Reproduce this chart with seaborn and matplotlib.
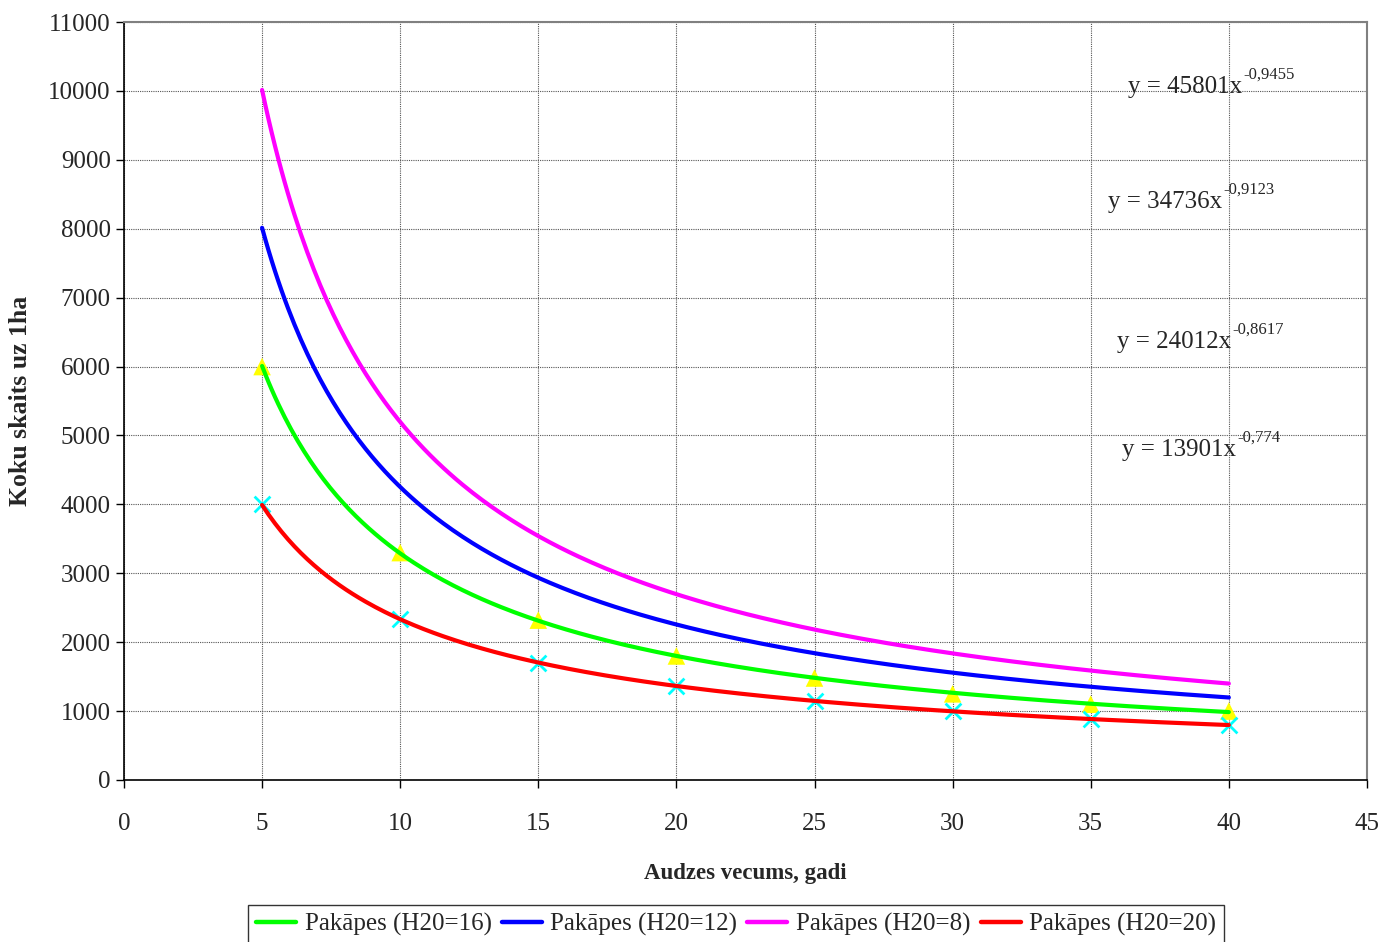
import numpy as np
import pandas as pd
import matplotlib.pyplot as plt
import seaborn as sns

# ---------------------------------------------------------------------------
# Dati (nolasīti no attēla)
# ---------------------------------------------------------------------------
vecums = [5, 10, 15, 20, 25, 30, 35, 40]

koki_h16 = [6000, 3300, 2320, 1800, 1480, 1250, 1100, 1000]
koki_h12 = [8000, 4250, 2950, 2260, 1840, 1550, 1350, 1200]
koki_h8 = [10000, 5200, 3550, 2700, 2180, 1830, 1590, 1400]
koki_h20 = [4000, 2330, 1700, 1360, 1150, 1000, 880, 800]

serijas = ["Pakāpes (H20=16)", "Pakāpes (H20=12)", "Pakāpes (H20=8)", "Pakāpes (H20=20)"]
krasas = ["#00FF00", "#0000FF", "#FF00FF", "#FF0000"]

vienadojumi = [
    ("y = 45801x", "-0,9455"),
    ("y = 34736x", "-0,9123"),
    ("y = 24012x", "-0,8617"),
    ("y = 13901x", "-0,774"),
]

# ---------------------------------------------------------------------------
# Stils
# ---------------------------------------------------------------------------
sns.set_style("white")
plt.rcParams.update({
    "font.family": ["Liberation Serif", "DejaVu Serif"],
    "font.size": 18,
})

# Power trendlines (kā Excel): fit log(y) = b*log(x) + log(a)
x_grid = np.linspace(min(vecums), max(vecums), 300)
rows = []
for name, vals in zip(serijas, [koki_h16, koki_h12, koki_h8, koki_h20]):
    b, loga = np.polyfit(np.log(vecums), np.log(vals), 1)
    for xv in x_grid:
        rows.append({"x": xv, "y": np.exp(loga) * xv ** b, "serija": name})
trend = pd.DataFrame(rows)

punkti = pd.DataFrame({
    "x": vecums * 2,
    "y": koki_h16 + koki_h20,
    "veids": ["h16"] * len(vecums) + ["h20"] * len(vecums),
})

fig = plt.figure(figsize=(13.82, 9.42), dpi=100)
ax = fig.add_axes([0.0897, 0.172, 0.8994, 0.8046])

# markers under the lines
sns.scatterplot(data=punkti[punkti["veids"] == "h16"], x="x", y="y", marker="^",
                color="#FFFF00", s=160, edgecolor="none", ax=ax, zorder=2, legend=False)
sns.scatterplot(data=punkti[punkti["veids"] == "h20"], x="x", y="y", marker="x",
                color="#00FFFF", s=130, linewidth=2, ax=ax, zorder=2, legend=False)

sns.lineplot(data=trend, x="x", y="y", hue="serija", hue_order=serijas,
             palette=dict(zip(serijas, krasas)), lw=3.0, ax=ax, zorder=3,
             legend=False, sort=False)

ax.set_xlim(0, 45)
ax.set_ylim(0, 11000)
ax.set_xticks(range(0, 46, 5))
ax.set_yticks(range(0, 11001, 1000))
ax.grid(True, color="#555555", linestyle=(0, (1, 1)), linewidth=0.8, zorder=0)
ax.set_axisbelow(True)
ax.tick_params(axis="both", direction="out", length=6, width=1, labelsize=18,
               left=True, bottom=True, color="black")
ax.tick_params(axis="x", pad=18)
for side in ["left", "bottom"]:
    ax.spines[side].set_color("black")
    ax.spines[side].set_linewidth(1.2)
for side in ["top", "right"]:
    ax.spines[side].set_color("#808080")
    ax.spines[side].set_linewidth(1.5)

ax.set_xlabel("Audzes vecums, gadi", fontsize=16.5, fontweight="bold", labelpad=20)
ax.set_ylabel("Koku skaits uz 1ha", fontsize=18.5, fontweight="bold", labelpad=12)

# equation labels
poz = [(40.47, 9970), (39.75, 8301), (40.08, 6269), (40.26, 4702)]
for (base, exp), (xp, yp) in zip(vienadojumi, poz):
    ax.text(xp, yp, base, ha="right", va="baseline", fontsize=18, zorder=4)
    ax.annotate(exp, xy=(xp, yp), xytext=(1, 10), textcoords="offset points",
                ha="left", va="baseline", fontsize=12, zorder=4)

handles = [plt.Line2D([], [], color=c, lw=3.2) for c in krasas]
leg = fig.legend(handles, serijas, loc="upper center", bbox_to_anchor=(0.5326, 0.039),
                 ncol=4, fontsize=18, frameon=True, fancybox=False, edgecolor="black",
                 handlelength=1.6, handletextpad=0.35, columnspacing=0.4,
                 borderpad=0.3, borderaxespad=0)
leg.get_frame().set_linewidth(1.0)

fig.savefig("out.png", dpi=100)
plt.close()
